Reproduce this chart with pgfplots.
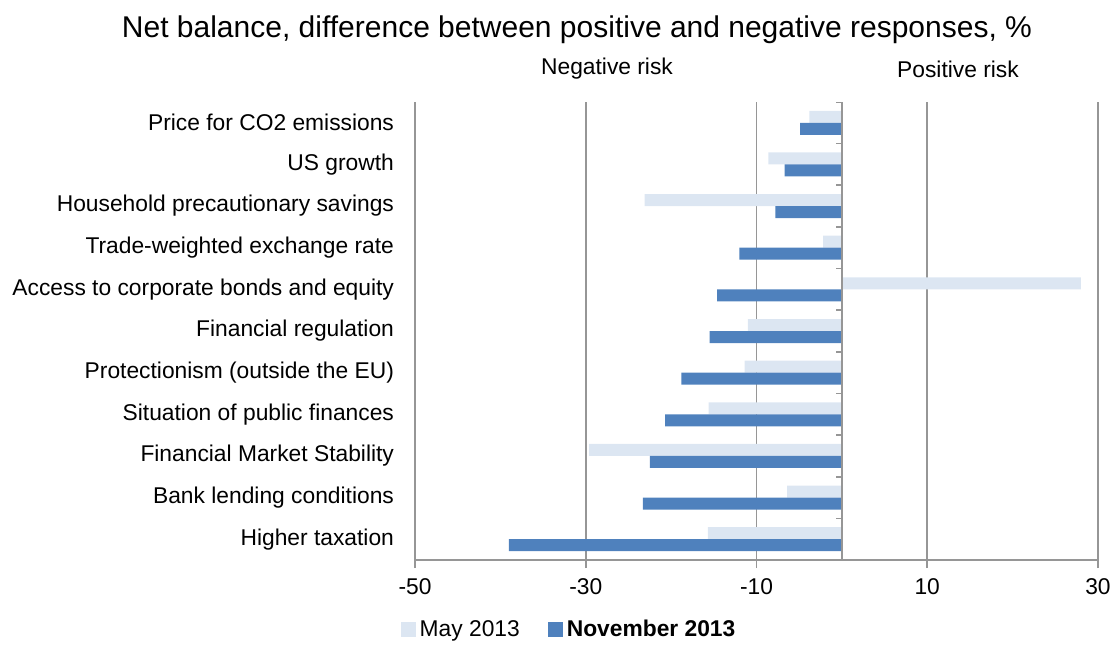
\documentclass[border=0pt]{standalone}
\usepackage{pgfplots}
\pgfplotsset{compat=1.18}
\usepackage{fontspec}
\setmainfont{Liberation Sans}
\definecolor{maycol}{RGB}{220,230,242}
\definecolor{novcol}{RGB}{79,129,189}
\definecolor{gridgray}{RGB}{150,150,150}
\begin{document}
\begin{tikzpicture}
\path[use as bounding box] (0,0) rectangle (557pt,322pt);
\begin{axis}[
  at={(207.5pt,42pt)}, anchor=south west,
  scale only axis, width=341.5pt, height=229pt,
  xbar=0pt, bar width=6pt,
  xmin=-50, xmax=30, ymin=-0.5, ymax=10.5, y dir=reverse,
  xtick={-50,-30,-10,10,30},
  ytick={0,...,10},
  yticklabels={Price for CO2 emissions, US growth, Household precautionary savings, Trade-weighted exchange rate, Access to corporate bonds and equity, Financial regulation, Protectionism (outside the EU), Situation of public finances, Financial Market Stability, Bank lending conditions, Higher taxation},
  axis x line*=bottom, axis y line*=left,
  y axis line style={draw=none},
  x axis line style={gridgray, line width=0.8pt},
  xmajorgrids, grid style={gridgray, line width=0.8pt},
  xtick style={gridgray, line width=0.8pt}, tick align=outside, major tick length=4pt,
  ytick style={draw=none},
  /pgf/number format/assume math mode=true,
  tick label style={font=\fontsize{11.4}{13}\selectfont},
  y tick label style={xshift=-3pt},
  x tick label style={yshift=-2pt},
  legend style={at={(0.227,-0.153)}, anchor=center, draw=none, legend columns=2,
    /tikz/every even column/.append style={column sep=12pt},
    font=\fontsize{11.4}{13}\selectfont},
  legend image code/.code={\fill[#1] (0pt,-3.5pt) rectangle (7.5pt,4pt);},
]
\addplot[fill=maycol, draw=none, bar shift=3pt] coordinates {
(-3.8,0) (-8.6,1) (-23.1,2) (-2.2,3) (28.0,4) (-11.0,5) (-11.4,6) (-15.6,7) (-29.6,8) (-6.4,9) (-15.7,10)};
\addplot[fill=novcol, draw=none, bar shift=-3pt] coordinates {
(-4.9,0) (-6.7,1) (-7.8,2) (-12.0,3) (-14.6,4) (-15.5,5) (-18.8,6) (-20.7,7) (-22.5,8) (-23.3,9) (-39.0,10)};
\legend{May 2013, \textbf{November 2013}}
\draw[gridgray, line width=0.8pt] (axis cs:0,-0.5) -- (axis cs:0,10.5);
\pgfplotsinvokeforeach{-0.5,0.5,1.5,2.5,3.5,4.5,5.5,6.5,7.5,8.5,9.5,10.5}{
  \draw[gridgray, line width=0.8pt] (axis cs:0,#1) -- ([xshift=-3pt]axis cs:0,#1);
}
\end{axis}
\node[font=\fontsize{15}{18}\selectfont] at (288.5pt,307pt) {Net balance, difference between positive and negative responses, \%};
\node[font=\fontsize{11.4}{13}\selectfont] at (303.5pt,287.5pt) {Negative risk};
\node[font=\fontsize{11.4}{13}\selectfont] at (479pt,287.5pt) {Positive risk};
\end{tikzpicture}
\end{document}
